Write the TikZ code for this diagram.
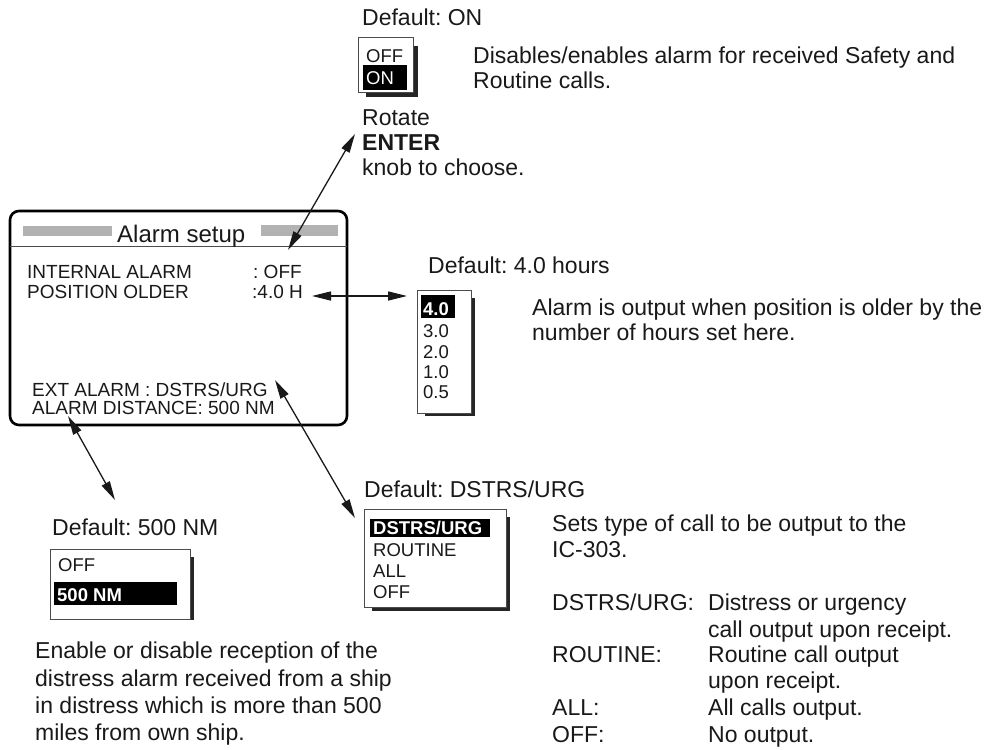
\documentclass[tikz,border=0pt]{standalone}
\usepackage{fontspec}
\setmainfont{Liberation Sans}
\usetikzlibrary{arrows.meta}
\frenchspacing
\tikzset{
  body/.style={anchor=base west, inner sep=0pt, text=black!90, font=\fontsize{23}{27}\selectfont},
  bodyb/.style={body, font=\fontsize{23}{27}\selectfont\bfseries},
  scr/.style={anchor=base west, inner sep=0pt, text=black!90, font=\fontsize{19}{22}\selectfont},
  ttl/.style={anchor=base west, inner sep=0pt, text=black!90, font=\fontsize{24}{28}\selectfont},
  item/.style={anchor=base west, inner sep=0pt, text=black!90, font=\fontsize{18.5}{21}\selectfont},
  itemsel/.style={anchor=base west, inner sep=0pt, text=white, font=\fontsize{18.5}{21}\selectfont\bfseries},
  itemon/.style={anchor=base west, inner sep=0pt, text=white, font=\fontsize{18.5}{21}\selectfont},
  menubox/.style={draw=black!70, line width=1pt, fill=white},
  shade/.style={fill=black!85},
  hilite/.style={fill=black},
  graybar/.style={fill=black!30},
  dbl/.style={{Triangle[length=19pt,width=9pt]}-{Triangle[length=19pt,width=9pt]}, line width=1.3pt, black!90},
}
\begin{document}
\frenchspacing
\begin{tikzpicture}[x=1pt,y=-1pt]
\useasboundingbox (0,0) rectangle (987,749);

% ---------- main screen ----------
\draw[line width=2.6pt, rounded corners=9pt] (10,211) rectangle (347,425);
\draw[line width=1pt, black!70] (10,246) -- (347,246);
\fill[graybar] (23,226) rectangle (112,236);
\fill[graybar] (261,225) rectangle (338,236);
\node[ttl] (title) at (117,242) {Alarm setup};
\node[scr] (ia) at (27,278) {INTERNAL ALARM};
\node[scr] (iav) at (253,278) {: OFF};
\node[scr] (po) at (27,298) {POSITION OLDER};
\node[scr] (pov) at (252,298) {:4.0 H};
\node[scr] (ext) at (32,396) {EXT ALARM : DSTRS/URG};
\node[scr] (dist) at (32,414) {ALARM DISTANCE: 500 NM};

% ---------- internal alarm menu ----------
\node[body] (d1) at (362,26) {Default: ON};
\fill[shade] (413,46) rectangle (418,97);
\fill[shade] (366,93) rectangle (418,97);
\draw[menubox] (358,38) rectangle (413,93);
\fill[hilite] (363,65) rectangle (407,90);
\node[item] (m1a) at (366,63) {OFF};
\node[itemon] (m1b) at (366,85) {ON};
\node[body] (t1a) at (473,64) {Disables/enables alarm for received Safety and};
\node[body] (t1b) at (473,89) {Routine calls.};
\node[body] (r1) at (362,125) {Rotate};
\node[bodyb] (r2) at (362,150) {ENTER};
\node[body] (r3) at (362,175) {knob to choose.};

% ---------- position older menu ----------
\node[body] (d2) at (428,273) {Default: 4.0 hours};
\fill[shade] (471,298) rectangle (475,416);
\fill[shade] (425,413) rectangle (475,416);
\draw[menubox] (417,290) rectangle (471,413);
\fill[hilite] (421,295) rectangle (455,318);
\node[itemsel] (m2a) at (423,315) {4.0};
\node[item] (m2b) at (423,337) {3.0};
\node[item] (m2c) at (423,358) {2.0};
\node[item] (m2d) at (423,378) {1.0};
\node[item] (m2e) at (423,398) {0.5};
\node[body] (t2a) at (532,315) {Alarm is output when position is older by the};
\node[body] (t2b) at (532,340) {number of hours set here.};

% ---------- ext alarm menu ----------
\node[body] (d3) at (364,497) {Default: DSTRS/URG};
\fill[shade] (506,517) rectangle (510,611);
\fill[shade] (372,607) rectangle (510,611);
\draw[menubox] (364,509) rectangle (506,607);
\fill[hilite] (370,519) rectangle (490,537);
\node[itemsel] (m3a) at (373,534) {DSTRS/URG};
\node[item] (m3b) at (373,556) {ROUTINE};
\node[item] (m3c) at (373,577) {ALL};
\node[item] (m3d) at (373,598) {OFF};
\node[body] (t3a) at (552,531) {Sets type of call to be output to the};
\node[body] (t3b) at (552,557) {IC-303.};
\node[body] (k1) at (552,610) {DSTRS/URG:};
\node[body] (v1) at (708,610) {Distress or urgency};
\node[body] (v1b) at (708,637) {call output upon receipt.};
\node[body] (k2) at (552,662) {ROUTINE:};
\node[body] (v2) at (708,662) {Routine call output};
\node[body] (v2b) at (708,688) {upon receipt.};
\node[body] (k3) at (552,715) {ALL:};
\node[body] (v3) at (708,715) {All calls output.};
\node[body] (k4) at (552,742) {OFF:};
\node[body] (v4) at (708,742) {No output.};

% ---------- alarm distance menu ----------
\node[body] (d4) at (52,535) {Default: 500 NM};
\fill[shade] (190,557) rectangle (194,620);
\draw[menubox] (50,549) rectangle (190,619);
\fill[hilite] (54,582) rectangle (177,605);
\node[item] (m4a) at (58,571) {OFF};
\node[itemsel] (m4b) at (57,601) {500 NM};
\node[body] (t4a) at (35,658) {Enable or disable reception of the};
\node[body] (t4b) at (35,686) {distress alarm received from a ship};
\node[body] (t4c) at (35,713) {in distress which is more than 500};
\node[body] (t4d) at (35,740) {miles from own ship.};

% ---------- connectors ----------
\coordinate (a1s) at (288,250);
\coordinate (a1e) at (355,134);
\coordinate (a2s) at (312,296);
\coordinate (a2e) at (407,296);
\coordinate (a3s) at (275,380);
\coordinate (a3e) at (355,518);
\coordinate (a4s) at (68,416);
\coordinate (a4e) at (115,500);
\draw[dbl] (a1s) -- (a1e);
\draw[dbl] (a2s) -- (a2e);
\draw[dbl] (a3s) -- (a3e);
\draw[dbl] (a4s) -- (a4e);
\end{tikzpicture}
\end{document}
